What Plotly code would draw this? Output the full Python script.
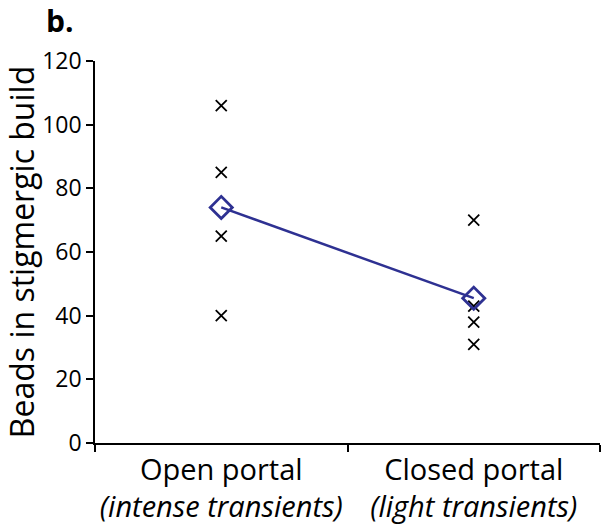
import plotly.graph_objects as go

categories = ["Open portal", "Closed portal"]
sublabels = ["(intense transients)", "(light transients)"]
open_vals = [106, 85, 65, 40]
closed_vals = [70, 43, 38, 31]
means = [74, 45.5]
cat_pos = [0.5, 1.5]

fig = go.Figure()
fig.add_trace(go.Scatter(
    x=[cat_pos[0]] * len(open_vals) + [cat_pos[1]] * len(closed_vals),
    y=open_vals + closed_vals,
    mode="markers",
    marker=dict(symbol="x-thin", size=11, line=dict(color="black", width=1.8)),
    showlegend=False,
))
fig.add_trace(go.Scatter(
    x=cat_pos, y=means, mode="lines+markers",
    line=dict(color="#2E3192", width=2.5),
    marker=dict(symbol="diamond-open", size=17, color="#2E3192", line=dict(width=2.8)),
    showlegend=False,
))

fig.update_layout(
    width=605, height=526,
    margin=dict(l=95, r=5, t=61, b=83),
    paper_bgcolor="white", plot_bgcolor="white",
    font=dict(family="Open Sans, Noto Sans, sans-serif", color="black"),
    xaxis=dict(
        range=[0, 2], showgrid=False, zeroline=False, automargin=False,
        showline=True, linecolor="black", linewidth=1.5,
        tickvals=cat_pos,
        ticktext=[f"{c}<br><i>{s}</i>" for c, s in zip(categories, sublabels)],
        ticks="", tickfont=dict(size=29),
        minor=dict(tickvals=[0, 1, 2], ticks="outside", ticklen=7, tickcolor="black", tickwidth=1.5),
    ),
    yaxis=dict(
        range=[0, 120], showgrid=False, zeroline=False, automargin=False,
        showline=True, linecolor="black", linewidth=1.5,
        tickvals=[0, 20, 40, 60, 80, 100, 120],
        ticks="outside", ticklen=7, tickwidth=1.5, tickcolor="black",
        tickfont=dict(size=23),
        title=dict(text="Beads in stigmergic build", font=dict(size=32), standoff=4),
    ),
    annotations=[dict(
        text="<b>b.</b>", x=-0.1, y=1.162, xref="paper", yref="paper",
        xanchor="left", yanchor="top", showarrow=False, borderpad=0,
        font=dict(size=30),
    )],
)
fig.write_html("out.html")
